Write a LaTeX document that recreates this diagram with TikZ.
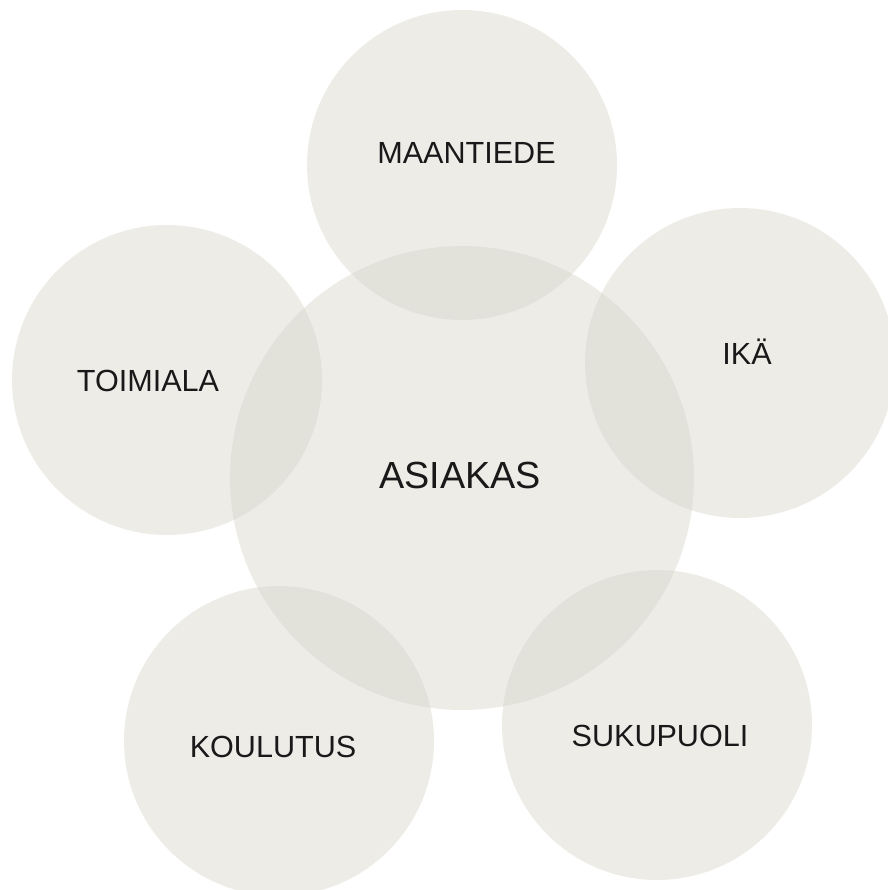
\documentclass[tikz,border=0pt]{standalone}
\usepackage{fontspec}
\setmainfont{Liberation Sans}
\definecolor{discfill}{RGB}{215,213,202}

\begin{document}
\begin{tikzpicture}[
    line cap=round, line join=round,
    disc/.style={fill=discfill, fill opacity=0.45},
    tag/.style={anchor=base, text=black!90, font=\fontsize{17.4}{20}\selectfont},
    hub/.style={anchor=base, text=black!90, font=\fontsize{21.5}{24}\selectfont},
  ]
  \useasboundingbox (0,0) rectangle (17.74,17.80);

  % --- circle centres ---
  \coordinate (c0) at (9.24,8.24);
  \coordinate (c1) at (9.24,14.50);
  \coordinate (c2) at (14.80,10.54);
  \coordinate (c3) at (3.34,10.20);
  \coordinate (c4) at (5.58,2.98);
  \coordinate (c5) at (13.14,3.30);

  % --- translucent discs ---
  \fill[disc] (c0) circle (4.64);
  \foreach \p in {c1,c2,c3,c4,c5}
    \fill[disc] (\p) circle (3.10);

  % --- labels ---
  \node[hub] (asiakas) at (9.20,8.02) {ASIAKAS};
  \foreach \n/\x/\y/\txt in {%
      maantiede/9.33/14.52/MAANTIEDE, ika/14.94/10.50/IKÄ,
      toimiala/2.96/9.97/TOIMIALA, koulutus/5.46/2.64/KOULUTUS,
      sukupuoli/13.20/2.86/SUKUPUOLI}
    \node[tag] (\n) at (\x,\y) {\txt};
\end{tikzpicture}
\end{document}
